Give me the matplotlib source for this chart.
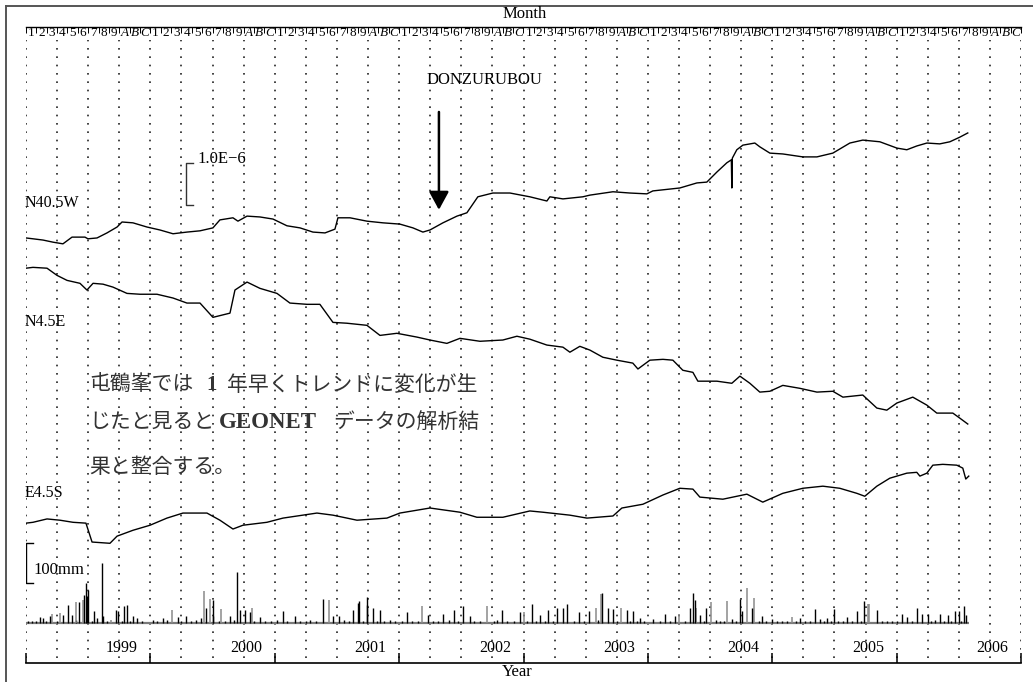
import matplotlib
matplotlib.use("Agg")
import matplotlib.pyplot as plt
from matplotlib.lines import Line2D
import numpy as np

# ---------------------------------------------------------------- data
# Strain records (change from the first sample, unit 1.0E-6) vs decimal year
n405w_t = [1999.000, 1999.056, 1999.137, 1999.217, 1999.297, 1999.370, 1999.474, 1999.498,
           1999.571, 1999.651, 1999.732, 1999.772, 1999.860, 1999.973, 2000.077, 2000.182,
           2000.294, 2000.399, 2000.503, 2000.559, 2000.664, 2000.704, 2000.777, 2000.881,
           2000.986, 2001.098, 2001.203, 2001.307, 2001.404, 2001.484, 2001.508, 2001.605,
           2001.741, 2001.870, 2002.006, 2002.111, 2002.191, 2002.248, 2002.352, 2002.465,
           2002.545, 2002.633, 2002.754, 2002.891, 2003.051, 2003.188, 2003.212, 2003.317,
           2003.477, 2003.534, 2003.719, 2003.855, 2003.992, 2004.040, 2004.257, 2004.394,
           2004.474, 2004.555, 2004.635, 2004.671, 2004.675, 2004.679, 2004.715, 2004.764,
           2004.860, 2004.900, 2004.981, 2005.085, 2005.246, 2005.359, 2005.487, 2005.624,
           2005.728, 2005.865, 2006.002, 2006.082, 2006.162, 2006.243, 2006.347, 2006.428,
           2006.508, 2006.572]
n405w_v = [0.00, -0.02, -0.05, -0.10, -0.14, 0.02, 0.02, -0.02,
           0.00, 0.12, 0.26, 0.38, 0.36, 0.26, 0.19, 0.10,
           0.14, 0.17, 0.24, 0.43, 0.48, 0.40, 0.52, 0.50,
           0.45, 0.29, 0.24, 0.14, 0.12, 0.21, 0.48, 0.48,
           0.40, 0.36, 0.33, 0.24, 0.14, 0.19, 0.36, 0.52,
           0.60, 0.98, 1.07, 1.07, 0.98, 0.88, 0.98, 0.93,
           0.98, 1.02, 1.10, 1.07, 1.05, 1.12, 1.19, 1.31,
           1.33, 1.57, 1.79, 1.86, 1.19, 1.90, 2.10, 2.21,
           2.26, 2.17, 2.02, 2.00, 1.93, 1.93, 2.02, 2.26,
           2.33, 2.29, 2.14, 2.10, 2.19, 2.26, 2.24, 2.29,
           2.40, 2.50]

n45e_t = [1999.000, 1999.056, 1999.169, 1999.249, 1999.330, 1999.434, 1999.490, 1999.539,
          1999.619, 1999.699, 1999.812, 1999.916, 2000.053, 2000.182, 2000.294, 2000.399,
          2000.503, 2000.640, 2000.680, 2000.777, 2000.881, 2001.018, 2001.122, 2001.259,
          2001.363, 2001.468, 2001.580, 2001.741, 2001.846, 2001.982, 2002.143, 2002.248,
          2002.384, 2002.489, 2002.650, 2002.834, 2002.947, 2003.051, 2003.188, 2003.317,
          2003.373, 2003.453, 2003.534, 2003.638, 2003.751, 2003.879, 2003.920, 2004.016,
          2004.121, 2004.201, 2004.281, 2004.362, 2004.402, 2004.555, 2004.675, 2004.740,
          2004.820, 2004.900, 2004.981, 2005.085, 2005.222, 2005.359, 2005.487, 2005.568,
          2005.728, 2005.841, 2005.921, 2006.002, 2006.130, 2006.243, 2006.323, 2006.452,
          2006.508, 2006.572]
n45e_v = [0.00, 0.02, 0.00, -0.17, -0.29, -0.36, -0.52, -0.36,
          -0.38, -0.45, -0.60, -0.62, -0.62, -0.71, -0.83, -0.83,
          -1.17, -1.07, -0.52, -0.33, -0.48, -0.60, -0.83, -0.86,
          -0.86, -1.29, -1.31, -1.36, -1.60, -1.55, -1.64, -1.71,
          -1.79, -1.67, -1.74, -1.71, -1.62, -1.69, -1.83, -1.88,
          -2.00, -1.86, -1.95, -2.12, -2.19, -2.26, -2.40, -2.19,
          -2.17, -2.19, -2.43, -2.48, -2.69, -2.69, -2.74, -2.57,
          -2.74, -2.95, -2.93, -2.79, -2.86, -2.95, -2.93, -3.07,
          -3.02, -3.33, -3.38, -3.21, -3.07, -3.26, -3.45, -3.45,
          -3.57, -3.71]

e45s_t = [1999.000, 1999.056, 1999.169, 1999.273, 1999.378, 1999.482, 1999.531, 1999.675,
          1999.732, 1999.860, 1999.997, 2000.133, 2000.262, 2000.455, 2000.559, 2000.664,
          2000.744, 2000.937, 2001.066, 2001.339, 2001.468, 2001.661, 2001.902, 2002.006,
          2002.248, 2002.489, 2002.625, 2002.834, 2003.051, 2003.156, 2003.373, 2003.510,
          2003.719, 2003.791, 2003.960, 2004.121, 2004.257, 2004.362, 2004.418, 2004.603,
          2004.796, 2004.924, 2005.085, 2005.246, 2005.407, 2005.543, 2005.680, 2005.744,
          2005.841, 2005.945, 2006.082, 2006.162, 2006.187, 2006.243, 2006.291, 2006.371,
          2006.484, 2006.532, 2006.556, 2006.580]
e45s_v = [0.00, 0.02, 0.10, 0.07, 0.02, 0.00, -0.45, -0.48,
          -0.31, -0.17, -0.05, 0.12, 0.24, 0.24, 0.07, -0.14,
          -0.05, 0.02, 0.12, 0.24, 0.19, 0.07, 0.12, 0.24,
          0.36, 0.26, 0.14, 0.14, 0.29, 0.26, 0.19, 0.12,
          0.17, 0.36, 0.45, 0.67, 0.83, 0.81, 0.62, 0.57,
          0.69, 0.50, 0.71, 0.83, 0.88, 0.83, 0.71, 0.64,
          0.88, 1.07, 1.19, 1.21, 1.12, 1.19, 1.38, 1.40,
          1.38, 1.31, 1.05, 1.12]

# Daily precipitation (mm), two gauges
rain_a_t = [1999.05, 1999.11, 1999.14, 1999.19, 1999.30, 1999.34, 1999.37, 1999.43, 1999.47,
            1999.48, 1999.49, 1999.50, 1999.55, 1999.57, 1999.61, 1999.62, 1999.72, 1999.74,
            1999.79, 1999.81, 1999.86, 1999.89,
            2000.02, 2000.10, 2000.22, 2000.29, 2000.37, 2000.41, 2000.45, 2000.50, 2000.505,
            2000.64, 2000.70, 2000.72, 2000.76, 2000.80, 2000.88,
            2001.02, 2001.07, 2001.16, 2001.28, 2001.39, 2001.47, 2001.52, 2001.63, 2001.67,
            2001.68, 2001.74, 2001.745, 2001.79, 2001.85, 2001.93,
            2002.06, 2002.23, 2002.35, 2002.44, 2002.51, 2002.57, 2002.83, 2002.97,
            2003.07, 2003.13, 2003.20, 2003.27, 2003.32, 2003.35, 2003.45, 2003.53, 2003.63,
            2003.68, 2003.72, 2003.83, 2003.88, 2003.94,
            2004.04, 2004.14, 2004.22, 2004.34, 2004.36, 2004.38, 2004.42, 2004.47, 2004.55,
            2004.68, 2004.74, 2004.76, 2004.84, 2004.92,
            2005.00, 2005.22, 2005.34, 2005.38, 2005.44, 2005.50, 2005.60, 2005.68, 2005.74,
            2005.84, 2005.92,
            2006.04, 2006.08, 2006.16, 2006.20, 2006.25, 2006.35, 2006.41, 2006.47, 2006.50,
            2006.54, 2006.56]
rain_a_mm = [6, 15, 12, 17, 20, 45, 20, 52, 70,
             100, 67, 82, 30, 12, 150, 17, 32, 30,
             42, 45, 17, 12,
             8, 12, 15, 17, 8, 12, 37, 57, 17,
             17, 127, 32, 32, 27, 15,
             8, 30, 17, 8, 60, 17, 17, 32, 50,
             55, 45, 65, 37, 32, 8,
             27, 20, 22, 32, 42, 17, 32, 27,
             47, 20, 32, 37, 37, 47, 27, 30, 75,
             37, 35, 32, 30, 12,
             10, 22, 17, 37, 75, 57, 20, 37, 8,
             10, 60, 30, 37, 17,
             10, 12, 35, 10, 12, 35, 15, 30, 55,
             32, 5,
             22, 15, 37, 22, 22, 22, 20, 30, 30,
             42, 20]

rain_b_t = [1999.21, 1999.27, 1999.40, 1999.46, 1999.68,
            2000.17, 2000.43, 2000.48, 2000.57, 2000.82,
            2001.44,
            2002.18, 2002.71,
            2003.00, 2003.58, 2003.62, 2003.78,
            2004.25, 2004.39, 2004.51, 2004.64, 2004.80, 2004.85,
            2005.16, 2005.77, 2005.78]
rain_b_mm = [22, 25, 52, 57, 8,
             32, 80, 60, 35, 37,
             57,
             42, 42,
             27, 37, 72, 37,
             22, 37, 52, 55, 87, 62,
             15, 47, 47]

# light days (gauge A)
rain_light_t = [1999.02, 1999.08, 1999.16, 1999.25, 1999.40, 1999.53, 1999.65, 1999.77, 1999.84, 1999.93,
                2000.05, 2000.13, 2000.25, 2000.33, 2000.55, 2000.60, 2000.67, 2000.83, 2000.92, 2000.97,
                2001.10, 2001.20, 2001.25, 2001.33, 2001.56, 2001.60, 2001.71, 2001.82, 2001.88, 2001.97,
                2002.02, 2002.10, 2002.15, 2002.27, 2002.31, 2002.40, 2002.47, 2002.60, 2002.65, 2002.76,
                2002.79, 2002.87, 2002.92,
                2003.03, 2003.10, 2003.17, 2003.24, 2003.41, 2003.49, 2003.60, 2003.75, 2003.86, 2003.91,
                2003.97,
                2004.10, 2004.18, 2004.30, 2004.45, 2004.58, 2004.61, 2004.71, 2004.89, 2004.95,
                2005.04, 2005.08, 2005.12, 2005.19, 2005.26, 2005.30, 2005.42, 2005.47, 2005.53, 2005.57,
                2005.64, 2005.71, 2005.88, 2005.96,
                2006.00, 2006.12, 2006.28, 2006.31, 2006.38, 2006.44, 2006.52]
rain_light_mm = [4, 5, 6, 4, 8, 5, 4, 6, 5, 4,
                 5, 7, 5, 6, 5, 6, 8, 5, 4, 6,
                 6, 5, 4, 6, 7, 5, 6, 5, 6, 4,
                 5, 6, 4, 6, 5, 7, 5, 6, 4, 5,
                 8, 6, 5,
                 6, 5, 4, 6, 5, 6, 8, 4, 5, 6,
                 4,
                 5, 4, 6, 5, 6, 5, 4, 5, 6,
                 4, 5, 6, 5, 4, 6, 5, 6, 5, 4,
                 6, 5, 4, 6,
                 5, 6, 5, 7, 6, 5, 6]

record_start, record_end = 1999.0, 2006.58
years = list(range(1999, 2007))
month_codes = ["1", "2", "3", "4", "5", "6", "7", "8", "9", "A", "B", "C"]
event_year = 2002.32          # DONZURUBOU
strain_scale = 1.0            # 1.0E-6
rain_scale = 100              # mm

# ---------------------------------------------------------------- layout
W, H = 1033, 682
SERIF = "Liberation Serif"
JP = ["Noto Sans CJK JP", "DejaVu Sans"]


def fx(px):
    return px / W


def fy(py):
    return 1 - py / H


fig = plt.figure(figsize=(W / 100, H / 100), dpi=100)
fig.patch.set_facecolor("white")

# partial frame around the sheet
fig.add_artist(Line2D([fx(6), fx(6)], [0, fy(6)], transform=fig.transFigure,
                      color="#555555", lw=1.4))
fig.add_artist(Line2D([fx(6), 1], [fy(6), fy(6)], transform=fig.transFigure,
                      color="#555555", lw=1.4))

ax = fig.add_axes([fx(26), fy(663), fx(1021) - fx(26), fy(27) - fy(663)])
ax.set_xlim(1999, 2007)
ax.set_ylim(0, 636 / 42)
for s in ("left", "right", "top"):
    ax.spines[s].set_visible(False)
ax.spines["bottom"].set_linewidth(1.2)
ax.set_yticks([])
ax.set_xticks(range(1999, 2008))
ax.tick_params(axis="x", direction="in", length=7, width=1.1, labelbottom=False)
ax.patch.set_alpha(0)

# quarter-year dotted grid
for q in np.arange(1999, 2007.001, 0.25):
    ax.axvline(q, ymin=5 / 636, ymax=623 / 636, color="#222222", lw=1.2,
               ls=(0, (1, 4)), zorder=0)

# month strip along the top
sec = ax.secondary_xaxis("top")
sec.set_xticks(np.arange(1999, 2007 + 1e-9, 1 / 12))
sec.set_xticklabels([])
sec.tick_params(axis="x", direction="in", length=4.5, width=0.7)
sec.spines["top"].set_linewidth(1.0)
for yr in years:
    for m, code in enumerate(month_codes):
        ax.text(yr + (m + 0.5) / 12, 1 - 6 / 636, code, transform=ax.get_xaxis_transform(),
                ha="center", va="center", fontsize=9.5, family=SERIF,
                style="italic" if m >= 9 else "normal")

# year labels
for yr in years:
    ax.text(yr + 0.77, 15 / 636, str(yr), transform=ax.get_xaxis_transform(),
            ha="center", va="center", fontsize=11.5, family=SERIF)

# strain traces, stacked
offsets = {"N40.5W": 10.12, "N4.5E": 9.40, "E4.5S": 3.33}
for t, v, key in ((n405w_t, n405w_v, "N40.5W"), (n45e_t, n45e_v, "N4.5E"),
                  (e45s_t, e45s_v, "E4.5S")):
    ax.plot(t, offsets[key] + np.asarray(v), color="black", lw=1.0, zorder=3)

# strain scale bar
sb_x, sb_y = 2000.286, 10.905
ax.plot([sb_x + 0.056, sb_x, sb_x, sb_x + 0.056],
        [sb_y + strain_scale, sb_y + strain_scale, sb_y, sb_y], color="#333333", lw=1.0)

# event arrow
ax.annotate("", xy=(event_year, 10.79), xytext=(event_year, 13.12),
            arrowprops=dict(arrowstyle="-|>,head_length=0.55,head_width=0.3",
                            mutation_scale=20, lw=1.8, color="black",
                            shrinkA=0, shrinkB=0))

# precipitation
axp = ax.twinx()
axp.set_ylim(-100, 1490)
for s in axp.spines.values():
    s.set_visible(False)
axp.set_yticks([])
axp.hlines(0, record_start, record_end, color="#7a7a7a", lw=1.6, zorder=1)
axp.vlines(rain_light_t, 0, rain_light_mm, color="black", lw=1.0, zorder=2)
axp.vlines(rain_b_t, 0, rain_b_mm, color="#8a8a8a", lw=1.1, zorder=2)
axp.vlines(rain_a_t, 0, rain_a_mm, color="black", lw=1.0, zorder=3)
axp.plot([1999.056, 1999.0, 1999.0, 1999.056],
         [rain_scale * 2, rain_scale * 2, rain_scale, rain_scale], color="black", lw=1.0)

# ---------------------------------------------------------------- text
fig.text(fx(525), fy(14), "Month", ha="center", va="center", fontsize=12, family=SERIF)
fig.text(fx(517), fy(672), "Year", ha="center", va="center", fontsize=12, family=SERIF)
fig.text(fx(25), fy(203), "N40.5W", ha="left", va="center", fontsize=11.5, family=SERIF)
fig.text(fx(25), fy(322), "N4.5E", ha="left", va="center", fontsize=11.5, family=SERIF)
fig.text(fx(25), fy(493), "E4.5S", ha="left", va="center", fontsize=11.5, family=SERIF)
fig.text(fx(197), fy(159), "1.0E\u22126", ha="left", va="center", fontsize=12, family=SERIF)
fig.text(fx(33), fy(570), "100mm", ha="left", va="center", fontsize=12, family=SERIF)
fig.text(fx(484), fy(80), "DONZURUBOU", ha="center", va="center", fontsize=12, family=SERIF)

jp_col = "#333333"
fig.text(fx(89), fy(385), "屯鶴峯では", ha="left", va="center", fontsize=15, family=JP, color=jp_col)
fig.text(fx(212), fy(385), "1", ha="center", va="center", fontsize=15, family=SERIF,
         weight="bold", color=jp_col)
fig.text(fx(227), fy(385), "年早くトレンドに変化が生", ha="left", va="center", fontsize=15,
         family=JP, color=jp_col)
fig.text(fx(89), fy(422), "じたと見ると", ha="left", va="center", fontsize=15, family=JP, color=jp_col)
fig.text(fx(268), fy(422), "GEONET", ha="center", va="center", fontsize=16.5, family=SERIF,
         weight="bold", color=jp_col)
fig.text(fx(333), fy(422), "データの解析結", ha="left", va="center", fontsize=15, family=JP,
         color=jp_col)
fig.text(fx(89), fy(467), "果と整合する。", ha="left", va="center", fontsize=15, family=JP, color=jp_col)

fig.savefig("out.png", dpi=100, facecolor="white")
